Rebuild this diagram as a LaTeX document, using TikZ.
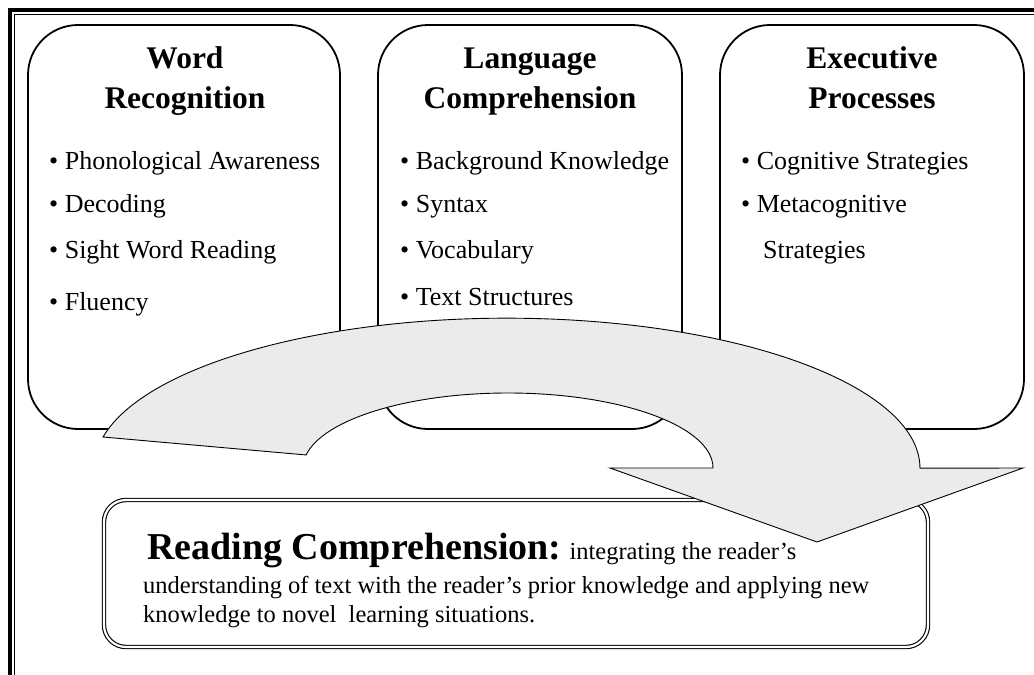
\documentclass[tikz,border=0pt]{standalone}
\usepackage{fontspec}
\setmainfont{Liberation Serif}
\begin{document}
\begin{tikzpicture}[x=1pt,y=1pt,
  panel/.style={draw, line width=1.8pt, rounded corners=50pt, inner sep=0pt},
  ttl/.style={anchor=base, inner sep=0pt, font=\fontsize{31.5}{36}\selectfont\bfseries},
  itm/.style={anchor=base west, inner sep=0pt, font=\fontsize{26}{31}\selectfont},
  rcbox/.style={draw, line width=1.1pt, double=white, double distance=2.2pt, rounded corners=22pt, inner sep=0pt},
  rctext/.style={anchor=base west, inner sep=0pt, font=\fontsize{24.5}{29}\selectfont},
  bigarrow/.style={draw, line width=0.9pt, fill=black!8}]
\useasboundingbox (0,0) rectangle (1034,-675);
% outer frame
\draw[line width=4pt] (10,-680) -- (10,-10) -- (1040,-10);
\draw[line width=1.2pt] (14.5,-680) -- (14.5,-14.5) -- (1040,-14.5);
% three panels
\node[panel, minimum width=312pt, minimum height=404pt] (wr) at (184,-227) {};
\node[panel, minimum width=304pt, minimum height=404pt] (lc) at (530,-227) {};
\node[panel, minimum width=304pt, minimum height=404pt] (ep) at (872,-227) {};
% titles
\node[ttl] (wr1) at (185,-68) {Word};
\node[ttl] (wr2) at (185,-108) {Recognition};
\node[ttl] (lc1) at (530,-68) {Language};
\node[ttl] (lc2) at (530,-108) {Comprehension};
\node[ttl] (ep1) at (872,-68) {Executive};
\node[ttl] (ep2) at (872,-108) {Processes};
% items
\node[itm] (wa) at (49,-169) {• Phonological Awareness};
\node[itm] (wb) at (49,-212) {• Decoding};
\node[itm] (wc) at (49,-258) {• Sight Word Reading};
\node[itm] (wd) at (49,-310) {• Fluency};
\node[itm] (la) at (400,-169) {• Background Knowledge};
\node[itm] (lb) at (400,-212) {• Syntax};
\node[itm] (lcv) at (400,-258) {• Vocabulary};
\node[itm] (ld) at (400,-305) {• Text Structures};
\node[itm] (ea) at (741,-169) {• Cognitive Strategies};
\node[itm] (eb) at (741,-212) {• Metacognitive};
\node[itm] (ec) at (763,-258) {Strategies};
% reading comprehension box
\node[rcbox, minimum width=824pt, minimum height=147pt] (rc) at (516,-573.5) {};
\node[rctext] (rc1) at (147,-559) {{\fontsize{38}{42}\selectfont\bfseries Reading Comprehension:} integrating the reader’s};
\node[rctext] (rc2) at (143,-593) {understanding of text with the reader’s prior knowledge and applying new};
\node[rctext] (rc3) at (143,-622) {knowledge to novel\ \ learning situations.};
% curved arrow
\path[bigarrow] (103,-437) arc[start angle=168, end angle=0, x radius=413, y radius=150]
  -- (1023,-468) -- (817,-542) -- (610,-468) -- (713,-468)
  arc[start angle=0, end angle=170, x radius=205, y radius=75] -- cycle;
\end{tikzpicture}
\end{document}
